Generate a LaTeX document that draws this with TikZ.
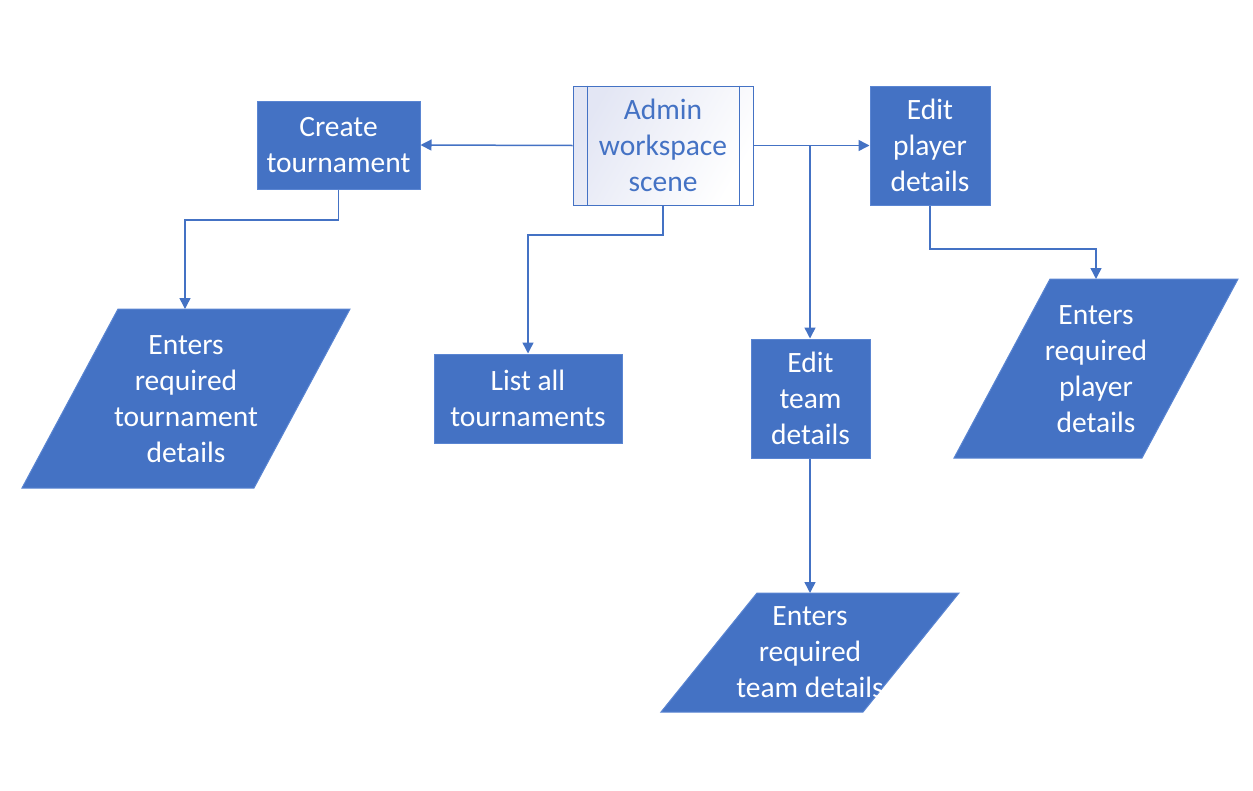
\documentclass[tikz,border=0pt]{standalone}
\usepackage{fontspec}
\setmainfont{Carlito}
\usetikzlibrary{arrows.meta,calc}
\definecolor{mblue}{HTML}{4472C4}
\definecolor{mborder}{HTML}{5A85D2}
\definecolor{lav}{HTML}{E3E6F4}
\begin{document}
\begin{tikzpicture}[x=1pt,y=-1pt,
  box/.style={draw=mborder,line width=1pt,fill=mblue,text=white,font=\fontsize{29.5}{36}\selectfont,align=center,inner sep=0pt},
  para/.style={draw=mborder,line width=1pt,fill=mblue},
  ptext/.style={text=white,font=\fontsize{29.5}{36}\selectfont,align=center,inner sep=0pt},
  conn/.style={draw=mblue,line width=1.5pt,-{Triangle[length=11pt,width=11pt]}},
  line/.style={draw=mblue,line width=1.5pt}]
\useasboundingbox (0,0) rectangle (1253,790);
% admin
\node[draw=mblue,line width=1pt,shading=axis,left color=lav,right color=white,shading angle=60,
  minimum width=180pt,minimum height=119pt,inner sep=0pt,text=mblue,align=center,
  font=\fontsize{29.5}{36}\selectfont] (admin) at (663,145.5) {Admin\\workspace\\scene};
\draw[mblue,line width=1pt] ($(admin.north west)+(15,0)$) -- ($(admin.south west)+(15,0)$);
\draw[mblue,line width=1pt] ($(admin.north east)+(-14,0)$) -- ($(admin.south east)+(-14,0)$);
% boxes
\node[box,minimum width=163pt,minimum height=88pt] (create) at (338.5,145) {Create\\tournament};
\node[box,minimum width=120pt,minimum height=119pt] (player) at (930,145.5) {Edit\\player\\details};
\node[box,minimum width=188pt,minimum height=89pt] (list) at (528,398.5) {List all\\tournaments};
\node[box,minimum width=119pt,minimum height=119pt] (team) at (810.5,398.5) {Edit\\team\\details};
% parallelograms
\draw[para] (118,309) -- (350,309) -- (254,488) -- (22,488) -- cycle;
\coordinate (tin) at (185,309);
\node[ptext] (tdet) at (186,399) {Enters\\required\\tournament\\details};
\draw[para] (1050,279) -- (1238,279) -- (1142,458) -- (954,458) -- cycle;
\coordinate (pin) at (1096,279);
\node[ptext] (pdet) at (1096,369) {Enters\\required\\player\\details};
\draw[para] (757,593) -- (959,593) -- (863,712) -- (661,712) -- cycle;
\coordinate (tmin) at (810,593);
\node[ptext] (tmdet) at (810,652) {Enters\\required\\team details};
% connectors
\draw[conn] (admin.west) -- (create.east);
\draw[conn] (create.south) |- (338.5,220) -| (tin);
\draw[conn] (admin.south) |- (528,235) -| (list.north);
\draw[conn] (admin.east) -- (player.west);
\coordinate (br) at (810,145.5);
\draw[conn] (br) -- (team.north -| br);
\draw[conn] (player.south) |- (1096,249) -- (pin);
\draw[conn] (team.south -| tmin) -- (tmin);
\end{tikzpicture}
\end{document}
